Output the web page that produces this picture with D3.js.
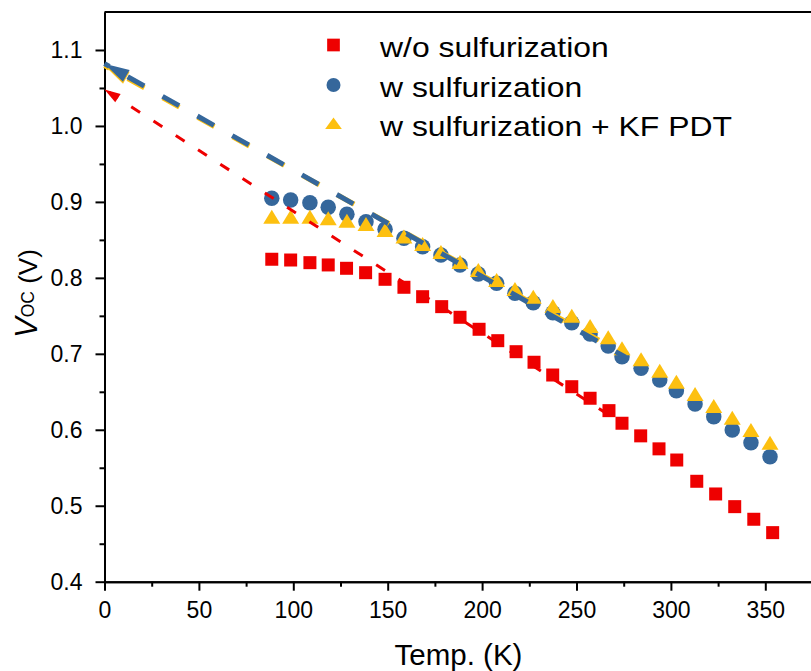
<!DOCTYPE html>
<html><head><meta charset="utf-8">
<script src="https://cdn.jsdelivr.net/npm/d3@7/dist/d3.min.js"></script>
<style>
html,body{margin:0;padding:0;background:#fff;}
svg{display:block;font-family:"Liberation Sans",Arial,sans-serif;}
</style></head>
<body><svg id="chart" width="811" height="671"></svg>
<script>
// ---- data ----
const seriesNames = ["w/o sulfurization", "w sulfurization", "w sulfurization + KF PDT"];
const colors = ["#ee0000", "#35679b", "#fdc010"];
const tempNoS = [88.6, 98.6, 108.8, 118.5, 128.2, 138.3, 148.6, 158.6, 168.5, 178.6, 188.3, 198.4, 208.3, 218.0, 227.5, 237.4, 247.5, 257.2, 267.2, 274.1, 284.0, 293.7, 303.1, 313.7, 323.7, 333.8, 343.9, 353.9];
const vocNoS = [0.8245, 0.8235, 0.820, 0.817, 0.8126, 0.8068, 0.7981, 0.7876, 0.7752, 0.7621, 0.7481, 0.7323, 0.7173, 0.7028, 0.6889, 0.6721, 0.6567, 0.6415, 0.6252, 0.6086, 0.592, 0.5749, 0.5602, 0.5322, 0.5155, 0.4988, 0.4822, 0.4646];
const tempS = [88.6, 98.6, 108.8, 118.5, 128.4, 138.5, 148.6, 158.6, 168.5, 178.2, 188.3, 198.0, 207.7, 217.4, 227.1, 237.5, 247.5, 257.2, 266.8, 274.1, 284.2, 294.1, 302.9, 312.8, 322.7, 332.5, 342.4, 352.5];
const vocS = [0.9048, 0.9025, 0.899, 0.8929, 0.8837, 0.874, 0.864, 0.8521, 0.841, 0.8301, 0.817, 0.8051, 0.7929, 0.7797, 0.7673, 0.7542, 0.741, 0.7261, 0.7103, 0.6962, 0.681, 0.6656, 0.6515, 0.634, 0.6172, 0.5997, 0.583, 0.5646];
const vocKF = [0.8805, 0.8805, 0.8805, 0.8784, 0.8753, 0.8709, 0.863, 0.8545, 0.8446, 0.8341, 0.8209, 0.8104, 0.7972, 0.7854, 0.7752, 0.763, 0.7502, 0.7367, 0.7218, 0.7073, 0.6928, 0.6778, 0.6633, 0.6471, 0.6313, 0.6159, 0.5997, 0.583];
// linear extrapolation lines (start at 0 K, end at ~275 K)
const fitNoS_T = [0, 275], fitNoS_V = [1.048, 0.607];
const fitS_T = [0, 276], fitS_V = [1.082, 0.6955];
const fitKF_T = [0, 276], fitKF_V = [1.0795, 0.6985];
const xTicks = [0, 50, 100, 150, 200, 250, 300, 350];
const yTicks = [0.4, 0.5, 0.6, 0.7, 0.8, 0.9, 1.0, 1.1];

// ---- scales ----
const svg = d3.select("#chart");
const x = d3.scaleLinear().domain([0, 375]).range([104.5, 812.5]);
const y = d3.scaleLinear().domain([0.4, 1.15]).range([581.7, 12]);

// ---- axes ----
const axStyle = g => {
  g.selectAll("path.domain").attr("stroke", "#000").attr("stroke-width", 2);
  g.selectAll(".tick line").attr("stroke", "#000").attr("stroke-width", 2);
  g.selectAll("text").attr("fill", "#000").attr("font-size", 23).attr("font-family", '"Liberation Sans",Arial,sans-serif');
};
const xMinor = d3.range(25, 376, 50);
const yMinor = d3.range(0.45, 1.15, 0.1);
svg.append("g").attr("transform", `translate(0,${y(0.4)})`)
  .call(d3.axisBottom(x).tickValues(xMinor).tickSize(5).tickSizeOuter(0).tickFormat(""))
  .call(axStyle);
svg.append("g").attr("transform", `translate(0,${y(0.4)})`)
  .call(d3.axisBottom(x).tickValues(xTicks).tickSize(9).tickPadding(11).tickSizeOuter(0).tickFormat(d3.format("d")))
  .call(axStyle);
svg.append("g").attr("transform", `translate(${x(0)},0)`)
  .call(d3.axisLeft(y).tickValues(yMinor).tickSize(5).tickSizeOuter(0).tickFormat(""))
  .call(axStyle);
svg.append("g").attr("transform", `translate(${x(0)},0)`)
  .call(d3.axisLeft(y).tickValues(yTicks).tickSize(9).tickPadding(13).tickSizeOuter(0).tickFormat(d3.format(".1f")))
  .call(axStyle);
// top frame line
svg.append("line").attr("x1", x(0)).attr("x2", x(375)).attr("y1", y(1.15)).attr("y2", y(1.15))
  .attr("stroke", "#000").attr("stroke-width", 2);

// ---- markers ----
const sym = d3.symbol();
function drawPts(T, V, color, type, size) {
  svg.append("g").selectAll("path").data(T.map((t, i) => [t, V[i]])).join("path")
    .attr("transform", d => `translate(${x(d[0])},${y(d[1])})`)
    .attr("d", markerPath(type, size))
    .attr("fill", color);
}
function markerPath(type, s) {
  if (type === "square") return `M${-s/2},${-s/2}h${s}v${s}h${-s}Z`;
  if (type === "circle") return d3.symbol().type(d3.symbolCircle).size(Math.PI * (s/2) * (s/2))();
  // triangle: width s, height 0.82*s, bbox centered
  const h = s * 0.82;
  return `M0,${-h/2}L${s/2},${h/2}L${-s/2},${h/2}Z`;
}
drawPts(tempNoS, vocNoS, colors[0], "square", 13);
drawPts(tempS, vocS, colors[1], "circle", 15.5);
drawPts(tempS, vocKF, colors[2], "triangle", 17);

// ---- dashed extrapolation lines with arrowheads ----
function drawFit(T, V, color, width, dash, offset, arrowLen, arrowHalf) {
  const line = d3.line().x(d => x(d[0])).y(d => y(d[1]));
  svg.append("path").datum(T.map((t, i) => [t, V[i]]))
    .attr("d", line).attr("fill", "none").attr("stroke", color)
    .attr("stroke-width", width).attr("stroke-dasharray", dash).attr("stroke-dashoffset", offset);
  const x0 = x(T[0]), y0 = y(V[0]), x1 = x(T[1]), y1 = y(V[1]);
  const L = Math.hypot(x1 - x0, y1 - y0), ux = (x1 - x0) / L, uy = (y1 - y0) / L;
  const bx = x0 + ux * arrowLen, by = y0 + uy * arrowLen;
  svg.append("path")
    .attr("d", `M${x0},${y0}L${bx - uy * arrowHalf},${by + ux * arrowHalf}L${bx + uy * arrowHalf},${by - ux * arrowHalf}Z`)
    .attr("fill", color);
}
drawFit(fitNoS_T, fitNoS_V, colors[0], 3, "10.5 16", 21.2, 16, 5);
drawFit(fitKF_T, fitKF_V, colors[2], 5, "19 21", 13.4, 25, 6.8);
drawFit(fitS_T, fitS_V, colors[1], 5, "19 21", 13.4, 25, 6.8);

// ---- legend ----
const legTypes = ["square", "circle", "triangle"];
const legSize = [12.7, 14, 16.7];
const legRowY = [45, 85, 123.5];
const leg = svg.append("g");
seriesNames.forEach((name, i) => {
  leg.append("path").attr("transform", `translate(333.5,${legRowY[i]})`)
    .attr("d", legTypes[i] === "triangle" ? `M0,-6L8.35,5.5L-8.35,5.5Z` : markerPath(legTypes[i], legSize[i]))
    .attr("fill", colors[i]);
  leg.append("text").attr("transform", `translate(380,${legRowY[i] + 12}) scale(1.12,1)`)
    .attr("font-size", 28.5).attr("fill", "#000").text(name);
});

// ---- axis titles ----
svg.append("text").attr("x", (x(0) + x(375)) / 2).attr("y", 665).attr("text-anchor", "middle")
  .attr("font-size", 29.5).attr("fill", "#000").text("Temp. (K)");
const yt = svg.append("text").attr("transform", "translate(37,338) rotate(-90)").attr("fill", "#000");
yt.append("tspan").attr("font-size", 31).attr("font-style", "italic").text("V");
yt.append("tspan").attr("font-size", 17.5).attr("dy", -3).text("OC");
yt.append("tspan").attr("font-size", 26).attr("dy", 3).text(" (V)");
</script>
</body></html>
